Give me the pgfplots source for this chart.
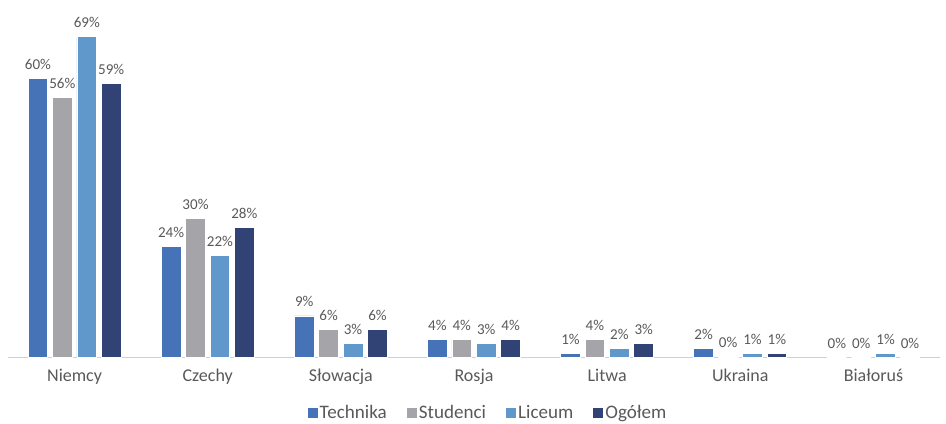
\documentclass[border=0pt]{standalone}
\usepackage{pgfplots}
\pgfplotsset{compat=1.18}
\usepackage{fontspec}
\setmainfont{Carlito}
\definecolor{cTech}{HTML}{4672B8}
\definecolor{cStud}{HTML}{A5A5A9}
\definecolor{cLic}{HTML}{6098CC}
\definecolor{cOg}{HTML}{304374}
\definecolor{txt}{HTML}{595959}
\definecolor{axl}{HTML}{D0D0D0}
\begin{document}
\begin{tikzpicture}
\begin{axis}[
  scale only axis,
  width=699pt, height=261.6pt,
  ybar=3.5pt, bar width=14.8pt,
  xmin=-0.5, xmax=6.5, ymin=0, ymax=75,
  axis x line*=bottom, axis y line=none,
  x axis line style={axl, line width=1pt, -},
  xtick={0,...,6}, major tick length=0pt,
  xticklabels={Niemcy,Czechy,Słowacja,Rosja,Litwa,Ukraina,Białoruś},
  xticklabel style={font=\fontsize{13.5}{15}\selectfont, text=txt, yshift=-5pt},
  every axis plot/.append style={draw=white, line width=0.6pt},
  nodes near coords={\pgfmathprintnumber[fixed,precision=0,assume math mode=true]{\pgfplotspointmeta}\%},
  nodes near coords style={font=\fontsize{11.3}{13}\selectfont, text=txt, yshift=3pt},
  legend style={at={(0.5,-0.159)}, anchor=center, xshift=10.5pt, draw=none, legend columns=-1,
    inner sep=0pt, outer sep=0pt, nodes={inner xsep=1.5pt, inner ysep=0pt},
    font=\fontsize{14.3}{16}\selectfont, text=txt,
    /tikz/every even column/.append style={column sep=13.5pt}},
  legend image code/.code={\fill[#1, draw=none] (0pt,-3.8pt) rectangle (7.6pt,3.8pt);},
]
\addplot[fill=cTech] coordinates {(0,60) (1,24) (2,9) (3,4) (4,1) (5,2) (6,0)};
\addplot[fill=cStud] coordinates {(0,56) (1,30) (2,6) (3,4) (4,4) (5,0.3) (6,0)};
\addplot[fill=cLic] coordinates {(0,69) (1,22) (2,3) (3,3) (4,2) (5,1) (6,1)};
\addplot[fill=cOg] coordinates {(0,59) (1,28) (2,6) (3,4) (4,3) (5,1) (6,0)};
\legend{Technika,Studenci,Liceum,Ogółem}
\coordinate (bl) at (rel axis cs:0,0);
\coordinate (tr) at (rel axis cs:1,1);
\end{axis}
\pgfresetboundingbox
\path ([xshift=-6pt,yshift=-49.5pt]bl) rectangle ([xshift=4.5pt,yshift=6.75pt]tr);
\end{tikzpicture}
\end{document}
